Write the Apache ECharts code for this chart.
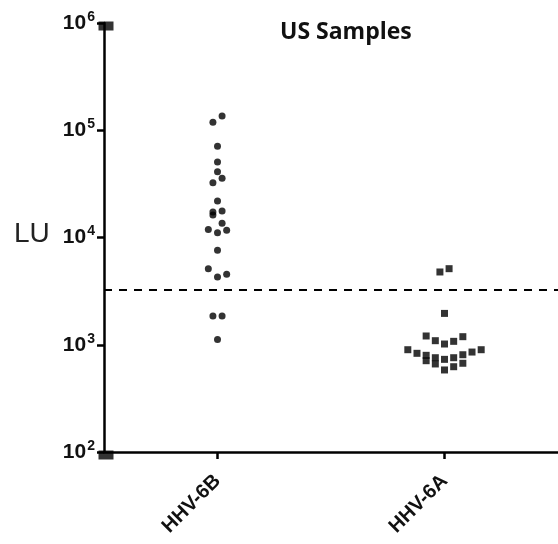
<!DOCTYPE html>
<html>
<head>
<meta charset="utf-8">
<script src="https://cdn.jsdelivr.net/npm/echarts@6/dist/echarts.min.js"></script>
<style>
  html, body { margin: 0; padding: 0; background: #fff; }
  #chart { width: 558px; height: 544px; }
</style>
</head>
<body>
<div id="chart"></div>
<script>
// groups on the x axis
var categories = ['HHV-6B', 'HHV-6A'];

// HHV-6B (circles): LU values and swarm column (in half-steps)
var hhv6bValues = [136000, 119000, 71000, 50600, 41100, 35600, 32400, 21900,
    17300, 16200, 17700, 13600, 11900, 11100, 11700, 7600, 5120, 4280, 4540,
    1850, 1850, 1120];
var hhv6bSlots = [1, -1, 0, 0, 0, 1, -1, 0,
    -1, -1, 1, 1, -2, 0, 2, 0, -2, 0, 2,
    -1, 1, 0];

// HHV-6A (squares)
var hhv6aValues = [4770, 5120, 1960,
    1207, 1091, 1016, 1076, 1189,
    899, 832, 797, 710, 757, 662, 731, 757, 807, 855, 899,
    582, 624, 672];
var hhv6aSlots = [-1, 1, 0,
    -4, -2, 0, 2, 4,
    -8, -6, -4, -4, -2, -2, 0, 2, 4, 6, 8,
    0, 2, 4];

// cut-off (dashed line)
var cutoff = 3240;

// log axis decades
var yMin = 100, yMax = 1000000;

var slotStep = 0.0202; // swarm spacing in category units

function toPoints(catIdx, vals, slots) {
    var out = [];
    for (var i = 0; i < vals.length; i++) {
        out.push([catIdx + slots[i] * slotStep, vals[i]]);
    }
    return out;
}

var myChart = echarts.init(document.getElementById('chart'));
var option = {
    animation: false,
    title: {
        text: 'US Samples',
        left: 275,
        top: 16,
        textStyle: {
            fontFamily: 'Open Sans',
            fontSize: 23,
            fontWeight: 'bold',
            color: '#111'
        }
    },
    graphic: [{
        type: 'text',
        left: 14,
        top: 220,
        style: {
            text: 'LU',
            font: '28px "Liberation Sans"',
            fill: '#222'
        }
    }],
    grid: {
        left: 104,
        top: 23,
        width: 460,
        height: 429,
        containLabel: false
    },
    xAxis: [
        {
            type: 'category',
            data: categories,
            boundaryGap: true,
            axisLine: { show: true, onZero: false, lineStyle: { color: '#000', width: 2.5 } },
            axisTick: { show: true, alignWithLabel: true, length: 7, lineStyle: { color: '#000', width: 2.5 } },
            axisLabel: {
                rotate: 45,
                margin: 26,
                fontFamily: 'Liberation Sans',
                fontSize: 20,
                fontWeight: 'bold',
                color: '#111'
            },
            splitLine: { show: false }
        },
        {
            type: 'value',
            min: -0.5,
            max: 1.5,
            show: false
        }
    ],
    yAxis: {
        type: 'log',
        logBase: 10,
        min: yMin,
        max: yMax,
        axisLine: { show: true, onZero: false, lineStyle: { color: '#000', width: 2.5 } },
        axisTick: { show: true, length: 7, lineStyle: { color: '#000', width: 2.5 } },
        minorTick: { show: false },
        splitLine: { show: false },
        axisLabel: {
            margin: 9,
            formatter: function (v) {
                var e = Math.round(Math.log(v) / Math.LN10);
                return '{b|10}{s|' + e + '}';
            },
            rich: {
                b: { fontFamily: 'Liberation Sans', fontSize: 21, fontWeight: 'bold', color: '#111' },
                s: { fontFamily: 'Liberation Sans', fontSize: 14, fontWeight: 'bold', color: '#111', padding: [0, 0, 12, 1] }
            }
        }
    },
    series: [
        {
            name: 'HHV-6B',
            type: 'scatter',
            xAxisIndex: 1,
            symbol: 'circle',
            symbolSize: 7,
            itemStyle: { color: '#000' },
            data: toPoints(0, hhv6bValues, hhv6bSlots),
            markLine: {
                silent: true,
                symbol: ['none', 'none'],
                label: { show: false },
                lineStyle: { color: '#000', type: [8, 7], width: 2 },
                data: [{ yAxis: cutoff }]
            }
        },
        {
            name: 'HHV-6A',
            type: 'scatter',
            xAxisIndex: 1,
            symbol: 'rect',
            symbolSize: 7,
            itemStyle: { color: '#000' },
            data: toPoints(1, hhv6aValues, hhv6aSlots)
        },
        {
            // axis end caps
            type: 'scatter',
            xAxisIndex: 1,
            silent: true,
            symbol: 'rect',
            symbolSize: [15, 9],
            symbolOffset: [2, 3],
            itemStyle: { color: '#000' },
            data: [[-0.5, yMax], [-0.5, yMin]]
        }
    ]
};
myChart.setOption(option);
</script>
</body>
</html>
